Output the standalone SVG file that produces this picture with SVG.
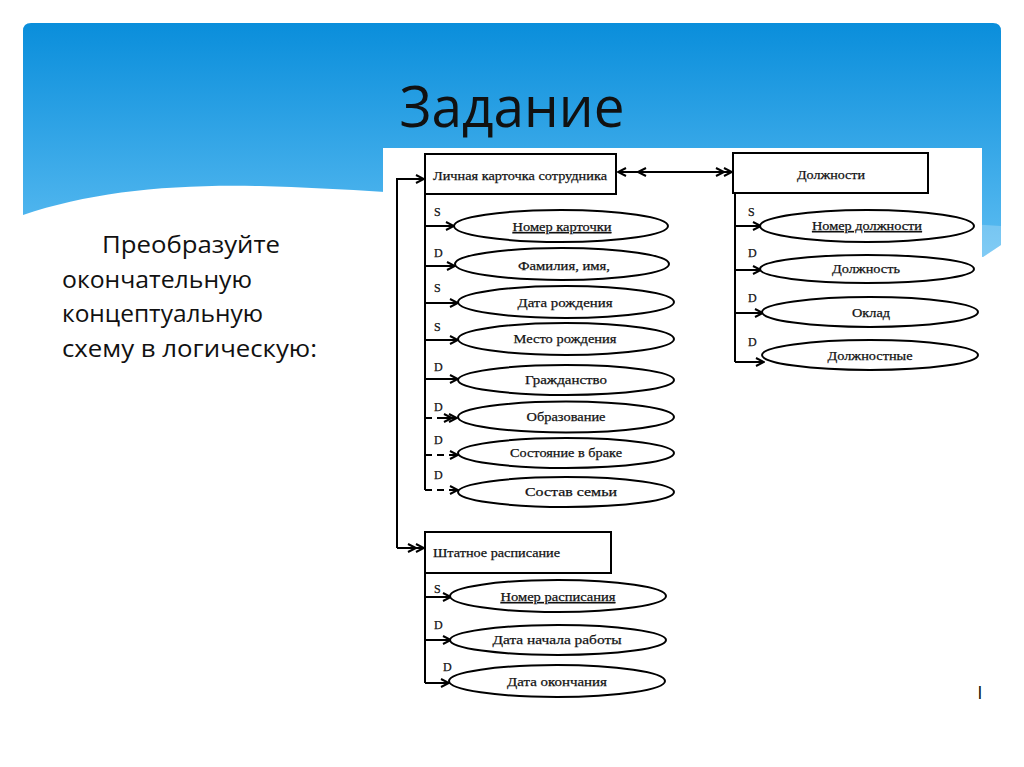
<svg xmlns="http://www.w3.org/2000/svg" width="1024" height="767" viewBox="0 0 1024 767">
<defs>
<linearGradient id="bg" x1="0" y1="0" x2="0" y2="1">
<stop offset="0" stop-color="#0a8edb"/>
<stop offset="1" stop-color="#5dbdf2"/>
</linearGradient>
<marker id="ah" viewBox="0 0 10 10" refX="9" refY="5" markerWidth="10" markerHeight="10" markerUnits="userSpaceOnUse" orient="auto">
<path d="M1,1 L9,5 L1,9" fill="none" stroke="#000" stroke-width="2"/>
</marker>
<marker id="ah2" viewBox="0 0 18 10" refX="17" refY="5" markerWidth="18" markerHeight="10" markerUnits="userSpaceOnUse" orient="auto-start-reverse">
<path d="M1,1 L9,5 L1,9 M9,1 L17,5 L9,9" fill="none" stroke="#000" stroke-width="2"/>
</marker>
<marker id="ah2far" viewBox="0 0 30 10" refX="29" refY="5" markerWidth="30" markerHeight="10" markerUnits="userSpaceOnUse" orient="auto-start-reverse">
<path d="M1,1 L9,5 L1,9 M21,1 L29,5 L21,9" fill="none" stroke="#000" stroke-width="2"/>
</marker>
</defs>
<style>
.slide{font-family:"Open Sans","Noto Sans",sans-serif;fill:#111}
.t{font-family:"Liberation Serif","Times New Roman",serif;font-size:13.5px;fill:#111;stroke:#111;stroke-width:0.25}
.lab{font-family:"Liberation Serif","Times New Roman",serif;font-size:12px;fill:#111;stroke:#111;stroke-width:0.25}
.box{fill:#fff;stroke:#000;stroke-width:2}
.ell{fill:#fff;stroke:#000;stroke-width:2}
.ln{fill:none;stroke:#000;stroke-width:2}
.arr{fill:none;stroke:#000;stroke-width:2;marker-end:url(#ah)}
.dash{fill:none;stroke:#000;stroke-width:2;stroke-dasharray:7 5;marker-end:url(#ah)}
</style>
<rect x="0" y="0" width="1024" height="767" fill="#fff"/>
<path d="M23,215 C90,192 170,184 260,186 C520,194 800,232 983,257 L1001,245 V31 Q1001,23 993,23 H31 Q23,23 23,31 Z" fill="url(#bg)"/>
<path d="M300,190 C560,196 800,214 1001,226 V245 L983,257 C800,232 560,200 300,190 Z" fill="#fff" opacity="0.22"/>
<text class="slide" x="512" y="127" font-size="56" text-anchor="middle" textLength="225" lengthAdjust="spacingAndGlyphs">Задание</text>
<text class="slide" font-size="23">
<tspan x="102" y="253" textLength="178" lengthAdjust="spacingAndGlyphs">Преобразуйте</tspan>
<tspan x="62" y="288" textLength="190" lengthAdjust="spacingAndGlyphs">окончательную</tspan>
<tspan x="62" y="322" textLength="201" lengthAdjust="spacingAndGlyphs">концептуальную</tspan>
<tspan x="62" y="357" textLength="255" lengthAdjust="spacingAndGlyphs">схему в логическую:</tspan>
</text>
<rect x="383" y="148" width="599" height="555" fill="#fff"/>
<text class="slide" x="980" y="699" font-size="19" text-anchor="middle">I</text>

<g id="connectors">
<path class="ln" d="M425,194 V490"/>
<path class="ln" d="M425,573 V683"/>
<path class="ln" d="M735,193 V362"/>
<path class="ln" d="M424,179 H397 V548" />
<path class="arr" d="M397,179 H424"/>
<path fill="none" stroke="#000" stroke-width="2" marker-end="url(#ah2)" d="M397,548 H424"/>
<path fill="none" stroke="#000" stroke-width="2" marker-start="url(#ah2far)" marker-end="url(#ah2)" d="M618,172 H732"/>
<path class="arr" d="M425,226 H454"/>
<path class="arr" d="M425,266 H455"/>
<path class="arr" d="M425,303 H458"/>
<path class="arr" d="M425,340 H458"/>
<path class="arr" d="M425,379 H458"/>
<path class="dash" d="M425,418 H457"/>
<path class="arr" d="M440,418 H452"/>
<path class="dash" d="M425,455 H458"/>
<path class="dash" d="M425,490 H458"/>
<path class="arr" d="M425,597 H451"/>
<path class="arr" d="M425,640 H451"/>
<path class="arr" d="M425,683 H449"/>
<path class="arr" d="M735,226 H761"/>
<path class="arr" d="M735,270 H761"/>
<path class="arr" d="M735,313 H763"/>
<path class="arr" d="M735,362 H764"/>
</g>

<g id="box-lichnaya">
<rect class="box" x="425" y="154" width="191" height="40"/>
<text class="t" x="433" y="180" textLength="174" lengthAdjust="spacingAndGlyphs">Личная карточка сотрудника</text>
</g>
<g id="box-dolzhnosti">
<rect class="box" x="733" y="153" width="195" height="40"/>
<text class="t" x="831" y="179" text-anchor="middle" textLength="68" lengthAdjust="spacingAndGlyphs">Должности</text>
</g>
<g id="box-shtatnoe">
<rect class="box" x="425" y="532" width="186" height="41"/>
<text class="t" x="433" y="557" textLength="127" lengthAdjust="spacingAndGlyphs">Штатное расписание</text>
</g>

<g id="labels">
<text class="lab" x="434" y="216">S</text>
<text class="lab" x="434" y="257">D</text>
<text class="lab" x="434" y="292">S</text>
<text class="lab" x="434" y="331">S</text>
<text class="lab" x="434" y="371">D</text>
<text class="lab" x="434" y="411">D</text>
<text class="lab" x="434" y="444">D</text>
<text class="lab" x="434" y="479">D</text>
<text class="lab" x="434" y="593">S</text>
<text class="lab" x="434" y="629">D</text>
<text class="lab" x="443" y="671">D</text>
<text class="lab" x="748" y="216">S</text>
<text class="lab" x="748" y="257">D</text>
<text class="lab" x="748" y="302">D</text>
<text class="lab" x="748" y="346">D</text>
</g>

<g id="e-nomer-kartochki">
<ellipse class="ell" cx="561" cy="226" rx="107" ry="16"/>
<text class="t" x="562" y="231" text-anchor="middle" text-decoration="underline" textLength="99" lengthAdjust="spacingAndGlyphs">Номер карточки</text>
</g>
<g id="e-familiya">
<ellipse class="ell" cx="562" cy="264" rx="107" ry="16"/>
<text class="t" x="564" y="270" text-anchor="middle" textLength="92" lengthAdjust="spacingAndGlyphs">Фамилия, имя,</text>
</g>
<g id="e-data-rozhd">
<ellipse class="ell" cx="566" cy="302" rx="108" ry="16"/>
<text class="t" x="565" y="307" text-anchor="middle" textLength="95" lengthAdjust="spacingAndGlyphs">Дата рождения</text>
</g>
<g id="e-mesto-rozhd">
<ellipse class="ell" cx="566" cy="339" rx="108" ry="16"/>
<text class="t" x="565" y="343" text-anchor="middle" textLength="103" lengthAdjust="spacingAndGlyphs">Место рождения</text>
</g>
<g id="e-grazhd">
<ellipse class="ell" cx="566" cy="380" rx="108" ry="15"/>
<text class="t" x="566" y="384" text-anchor="middle" textLength="82" lengthAdjust="spacingAndGlyphs">Гражданство</text>
</g>
<g id="e-obraz">
<ellipse class="ell" cx="566" cy="417" rx="108" ry="15.5"/>
<text class="t" x="566" y="421" text-anchor="middle" textLength="79" lengthAdjust="spacingAndGlyphs">Образование</text>
</g>
<g id="e-sostoyanie">
<ellipse class="ell" cx="566" cy="453" rx="108" ry="15"/>
<text class="t" x="566" y="457" text-anchor="middle" textLength="112" lengthAdjust="spacingAndGlyphs">Состояние в браке</text>
</g>
<g id="e-sostav">
<ellipse class="ell" cx="566" cy="492" rx="108" ry="15"/>
<text class="t" x="571" y="496" text-anchor="middle" textLength="92" lengthAdjust="spacingAndGlyphs">Состав семьи</text>
</g>
<g id="e-nomer-rasp">
<ellipse class="ell" cx="558" cy="596" rx="108" ry="16"/>
<text class="t" x="558" y="601" text-anchor="middle" text-decoration="underline" textLength="115" lengthAdjust="spacingAndGlyphs">Номер расписания</text>
</g>
<g id="e-data-nach">
<ellipse class="ell" cx="558" cy="640" rx="108" ry="15"/>
<text class="t" x="557" y="644" text-anchor="middle" textLength="129" lengthAdjust="spacingAndGlyphs">Дата начала работы</text>
</g>
<g id="e-data-okonch">
<ellipse class="ell" cx="557" cy="681" rx="108" ry="16"/>
<text class="t" x="557" y="686" text-anchor="middle" textLength="100" lengthAdjust="spacingAndGlyphs">Дата окончания</text>
</g>
<g id="e-nomer-dolzh">
<ellipse class="ell" cx="867" cy="226" rx="107" ry="16"/>
<text class="t" x="867" y="230" text-anchor="middle" text-decoration="underline" textLength="110" lengthAdjust="spacingAndGlyphs">Номер должности</text>
</g>
<g id="e-dolzhnost">
<ellipse class="ell" cx="867" cy="269" rx="107" ry="14"/>
<text class="t" x="866" y="273" text-anchor="middle" textLength="68" lengthAdjust="spacingAndGlyphs">Должность</text>
</g>
<g id="e-oklad">
<ellipse class="ell" cx="870" cy="312" rx="108" ry="15"/>
<text class="t" x="871" y="317" text-anchor="middle" textLength="38" lengthAdjust="spacingAndGlyphs">Оклад</text>
</g>
<g id="e-dolzhnostnye">
<ellipse class="ell" cx="870" cy="355" rx="108" ry="15"/>
<text class="t" x="870" y="360" text-anchor="middle" textLength="85" lengthAdjust="spacingAndGlyphs">Должностные</text>
</g>
</svg>
